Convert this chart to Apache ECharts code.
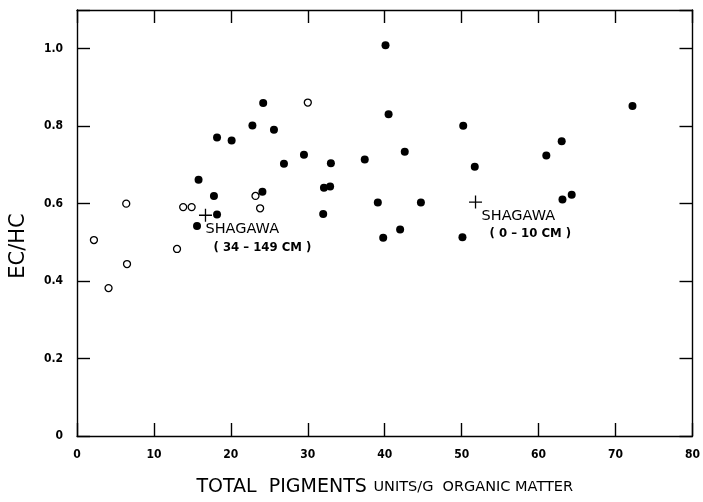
<!DOCTYPE html>
<html>
<head>
<meta charset="utf-8">
<script src="https://cdn.jsdelivr.net/npm/echarts@6/dist/echarts.min.js"></script>
<style>
  html, body { margin: 0; padding: 0; background: #fff; }
  #chart { width: 703px; height: 502px; }
</style>
</head>
<body>
<div id="chart"></div>
<script>
// 数据：总色素 (units/g organic matter) 与 EC/HC
var filledX = [15.6, 15.8, 17.8, 18.2, 18.2, 20.1, 22.8, 24.1, 24.2, 25.6, 26.9, 29.5, 32.0, 32.1, 32.9, 33.0,
  37.4, 39.1, 39.8, 40.1, 40.5, 42.0, 42.6, 44.7, 50.1, 50.2, 51.7, 61.0, 63.0, 63.1, 64.3, 72.2];
var filledY = [0.542, 0.662, 0.620, 0.572, 0.771, 0.763, 0.802, 0.631, 0.860, 0.791, 0.703, 0.726, 0.573, 0.641, 0.644, 0.704,
  0.714, 0.603, 0.512, 1.009, 0.831, 0.533, 0.734, 0.603, 0.513, 0.801, 0.695, 0.724, 0.761, 0.611, 0.623, 0.852];

var openX = [2.2, 4.1, 6.4, 6.5, 13.0, 13.8, 14.9, 23.2, 23.8, 30.0];
var openY = [0.506, 0.382, 0.600, 0.444, 0.483, 0.591, 0.591, 0.620, 0.588, 0.861];

var shagawaX = [16.7, 51.8];
var shagawaY = [0.570, 0.604];
var shagawaDepth = ["( 34 \u2013 149 CM )", "( 0 \u2013 10 CM )"];

var xTicks = [0, 10, 20, 30, 40, 50, 60, 70, 80];
var yTicks = [0, 0.2, 0.4, 0.6, 0.8, 1.0];

var tickFont = '"Liberation Sans Narrow", "DejaVu Sans Condensed", sans-serif';
var textFont = '"DejaVu Sans", "Liberation Sans", sans-serif';

function pairs(xs, ys) {
  return xs.map(function (x, i) { return [x, ys[i]]; });
}

var chart = echarts.init(document.getElementById("chart"));

var line = { show: true, onZero: false, lineStyle: { color: "#000", width: 1.4 } };
var tick = { show: true, inside: true, length: 13, lineStyle: { color: "#000", width: 1.4 } };
var labelPos = [[9, 14], [15, 14]];

var option = {
  backgroundColor: "#fff",
  animation: false,
  grid: { left: 77, right: 6, top: 10, bottom: 64 },
  xAxis: [
    {
      type: "value", min: 0, max: 80, interval: 10,
      axisLine: line, axisTick: tick, splitLine: { show: false },
      axisLabel: {
        color: "#000", fontFamily: tickFont, fontWeight: "bold", fontSize: 12, margin: 13,
        formatter: function (v) { return xTicks.indexOf(v) >= 0 ? String(v) : ""; }
      },
      name: "{a|TOTAL  PIGMENTS}  {b|UNITS/G  ORGANIC MATTER}",
      nameLocation: "middle", nameGap: 42,
      nameTextStyle: {
        rich: {
          a: { fontFamily: textFont, fontSize: 19, color: "#000" },
          b: { fontFamily: textFont, fontSize: 14.5, color: "#000" }
        }
      }
    },
    {
      type: "value", position: "top", min: 0, max: 80, interval: 10,
      axisLine: line, axisTick: tick, splitLine: { show: false }, axisLabel: { show: false }
    }
  ],
  yAxis: [
    {
      type: "value", min: 0, max: 1.1, interval: 0.2,
      axisLine: line, axisTick: tick, splitLine: { show: false },
      axisLabel: {
        color: "#000", fontFamily: tickFont, fontWeight: "bold", fontSize: 12, margin: 14,
        formatter: function (v) {
          var r = Math.round(v * 10) / 10;
          if (yTicks.indexOf(r) < 0 || Math.abs(v - r) > 1e-6) return "";
          return r === 0 ? "0" : r.toFixed(1);
        }
      }
    },
    {
      type: "value", position: "right", min: 0, max: 1.1, interval: 0.2,
      axisLine: line, axisTick: tick, splitLine: { show: false }, axisLabel: { show: false }
    }
  ],
  graphic: [
    {
      type: "text", x: 19, y: 246, rotation: Math.PI / 2,
      style: { text: "EC/HC", font: "21px " + textFont, fill: "#000", align: "center", verticalAlign: "middle" }
    }
  ],
  series: [
    {
      type: "scatter", name: "filled", symbol: "circle", symbolSize: 8,
      itemStyle: { color: "#000", opacity: 1 },
      data: pairs(filledX, filledY)
    },
    {
      type: "scatter", name: "open", symbol: "circle", symbolSize: 7,
      itemStyle: { color: "#fff", borderColor: "#000", borderWidth: 1.3, opacity: 1 },
      data: pairs(openX, openY)
    },
    {
      type: "scatter", name: "Shagawa", symbolSize: 13,
      symbol: "path://M6,0 L6,12 M0,6 L12,6",
      itemStyle: { color: "none", borderColor: "#000", borderWidth: 1.3, opacity: 1 },
      label: {
        show: true, align: "left", verticalAlign: "top",
        formatter: function (p) { return "{a|SHAGAWA}\n{b|" + shagawaDepth[p.dataIndex] + "}"; },
        rich: {
          a: { fontFamily: textFont, fontSize: 14.5, color: "#000", lineHeight: 18 },
          b: { fontFamily: tickFont, fontSize: 13, fontWeight: "bold", color: "#000", lineHeight: 18, padding: [0, 0, 0, 8] }
        }
      },
      data: pairs(shagawaX, shagawaY).map(function (d, i) {
        return { value: d, label: { position: labelPos[i] } };
      })
    }
  ]
};

chart.setOption(option);
</script>
</body>
</html>
